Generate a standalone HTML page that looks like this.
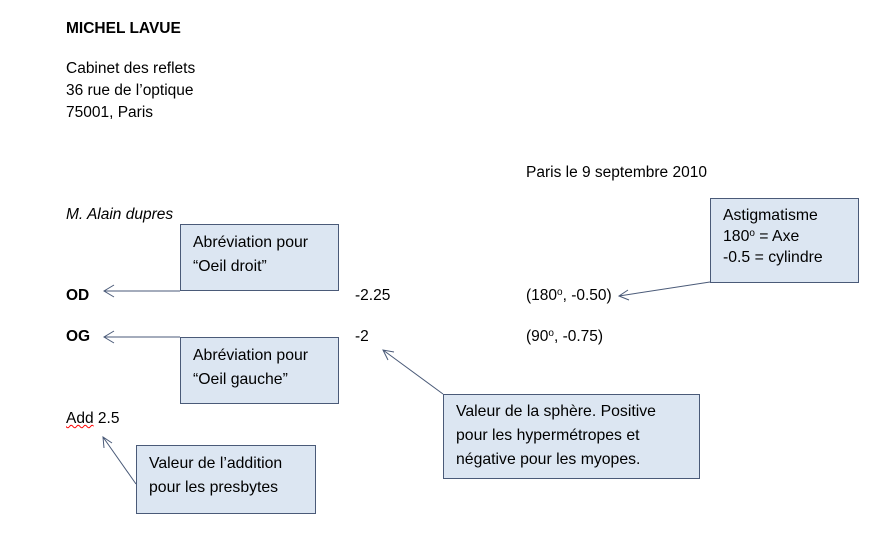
<!DOCTYPE html>
<html><head><meta charset="utf-8"><style>
body{margin:0;width:886px;height:538px;background:#fff;position:relative;overflow:hidden;font-family:"Liberation Sans",sans-serif;font-size:15.5px;color:#000}
.t{position:absolute;white-space:nowrap;line-height:22px;margin-top:2px}
.b{position:absolute;background:#dce6f2;border:1px solid #4a5a78;box-sizing:border-box;padding:6px 12px;line-height:24px;white-space:nowrap;font-size:15.8px}
sup{font-size:10px;vertical-align:5px;line-height:0}
svg{position:absolute;left:0;top:0}
</style></head><body>
<div class="t" style="left:66px;top:16px;font-weight:bold">MICHEL LAVUE</div>
<div class="t" style="left:66px;top:56px">Cabinet des reflets<br>36 rue de l’optique<br>75001, Paris</div>
<div class="t" style="left:526px;top:160px">Paris le 9 septembre 2010</div>
<div class="t" style="left:66px;top:202px;font-style:italic">M. Alain dupres</div>
<div class="t" style="left:66px;top:283px;font-weight:bold">OD</div>
<div class="t" style="left:355px;top:283px">-2.25</div>
<div class="t" style="left:526px;top:283px">(180<sup>o</sup>, -0.50)</div>
<div class="t" style="left:66px;top:324px;font-weight:bold">OG</div>
<div class="t" style="left:355px;top:324px">-2</div>
<div class="t" style="left:526px;top:324px">(90<sup>o</sup>, -0.75)</div>
<div class="t" style="left:66px;top:406px"><span style="text-decoration:underline wavy red;text-decoration-thickness:1px">Add</span> 2.5</div>
<div class="b" style="left:180px;top:224px;width:159px;height:67px">Abréviation pour<br>“Oeil droit”</div>
<div class="b" style="left:180px;top:337px;width:159px;height:67px">Abréviation pour<br>“Oeil gauche”</div>
<div class="b" style="left:136px;top:445px;width:180px;height:69px">Valeur de l’addition<br>pour les presbytes</div>
<div class="b" style="left:443px;top:394px;width:257px;height:85px;padding-top:5px">Valeur de la sphère. Positive<br>pour les hypermétropes et<br>négative pour les myopes.</div>
<div class="b" style="left:710px;top:198px;width:149px;height:85px;padding-top:6px;line-height:21px">Astigmatisme<br>180<sup>o</sup> = Axe<br>-0.5 = cylindre</div>
<svg width="886" height="538" fill="none" stroke="#4a5a78" stroke-width="1">
<path d="M180 291H104M114 285L104 291L114 297"/>
<path d="M180 337H104M114 331L104 337L114 343"/>
<path d="M443 394L383 350M388 360L383 350L394 352"/>
<path d="M136 484L103 437M104 448L103 437L112 443"/>
<path d="M710 282L619 296M628 290L619 296L629 300"/>
</svg>
</body></html>
